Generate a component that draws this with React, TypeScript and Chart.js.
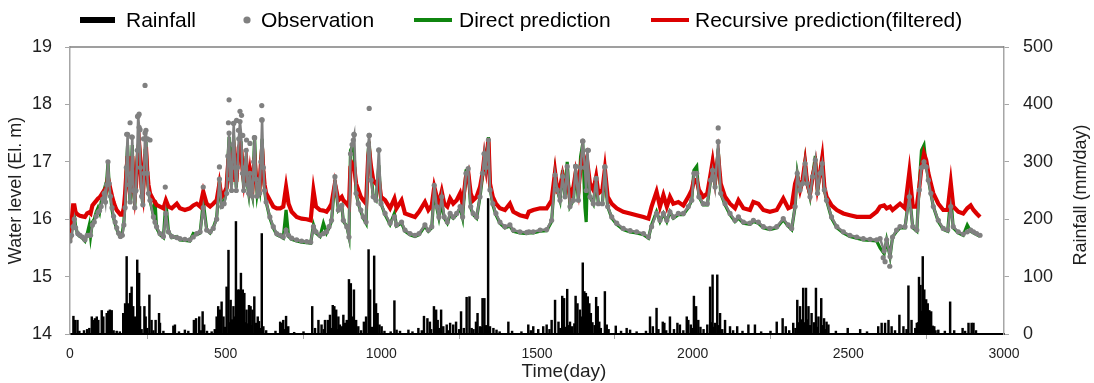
import { useEffect, useRef } from "react";
import { Chart, registerables } from "chart.js";

Chart.register(...registerables);

const FONT = "'Liberation Sans', Arial, Helvetica, sans-serif";
const OBS_GREY = "#808080";
const DIRECT_GREEN = "#0f850f";
const RECURSIVE_RED = "#dc0000";
const RAIN_BLACK = "#000000";
const AXIS_GREY = "#a6a6a6";
const TEXT = "#1f1f1f";

// Sample days for the water-level series (days since start)
const levelDays = [
  0, 5, 10, 14, 18, 25, 32, 40, 48, 55, 62, 66, 72, 78, 84, 90, 95, 100, 105, 110, 114, 118, 122, 126, 130, 135, 140, 145, 150, 156, 162, 168, 173,
  177, 181, 185, 189, 193, 197, 200, 204, 208, 212, 216, 219, 222, 226, 230, 234, 238, 241, 244, 248, 252, 257,
  268, 273, 278, 289, 300, 308, 316, 327, 343, 353, 369, 385, 396, 407, 418, 428, 439, 450, 460, 471, 480, 487, 495,
  503, 507, 511, 515, 519, 523, 526, 530, 534, 538, 542, 546, 550, 554, 558, 562, 566, 570, 574, 578, 582, 586, 590, 593, 597, 601, 605, 609, 613, 617, 621, 625, 630,
  642, 653, 664, 675, 685, 694, 702, 712, 728, 744, 760, 773, 782, 790, 803, 814, 824, 832, 840, 851, 862, 873, 878, 889, 896, 901, 906, 913, 919, 926, 934, 942, 951, 958, 961, 967, 974, 983, 992, 999,
  1012, 1028, 1042, 1049, 1065, 1076, 1092, 1108, 1121, 1140, 1151, 1162, 1170, 1178, 1185, 1194, 1202, 1212, 1221, 1231, 1242, 1253, 1261, 1272, 1279, 1287, 1295, 1306, 1317, 1325, 1331, 1336, 1344, 1349, 1358, 1368, 1381, 1397, 1413, 1424, 1445, 1467, 1474, 1488,
  1510, 1531, 1547, 1558, 1565, 1574, 1582, 1590, 1597, 1606, 1617, 1624, 1633, 1640, 1647, 1654, 1658, 1662, 1670, 1681, 1690, 1697, 1710, 1718, 1727, 1740, 1756, 1777, 1799, 1820, 1842, 1858, 1868, 1884, 1895, 1906, 1917, 1927, 1938, 1954, 1970, 1986, 1997,
  2004, 2013, 2020, 2034, 2047, 2058, 2064, 2072, 2082, 2090, 2104, 2120, 2136, 2147, 2163, 2184, 2195, 2211, 2227, 2248, 2270, 2291, 2307, 2318, 2329, 2336, 2345, 2353, 2361, 2368, 2377, 2385, 2394, 2401, 2409, 2416, 2423, 2430, 2446, 2463, 2484,
  2505, 2527, 2548, 2570, 2591, 2602, 2615, 2623, 2634, 2642, 2655, 2666, 2682, 2696, 2707, 2720, 2728, 2735, 2743, 2750, 2757, 2765, 2773, 2789, 2805, 2819, 2829, 2837, 2853, 2869, 2882, 2893, 2902, 2912, 2923,
];

// Observed water level (El. m)
const observed = [
  15.62, 15.72, 15.87, 16.0, 15.85, 15.75, 15.72, 15.69, 15.64, 15.72, 15.72, 15.72, 15.9, 15.95, 16.05, 16.12, 16.15, 16.22, 16.35, 16.45, 16.3, 16.6, 17.0, 16.62, 16.4, 16.2, 16.05, 15.95, 15.85, 15.76, 15.7, 15.72, 15.9,
  16.2, 16.9, 17.48, 16.6, 16.3, 16.8, 17.43, 16.5, 16.2, 16.5, 17.2, 17.8, 17.6, 16.9, 16.4, 16.25, 16.8, 17.5, 17.55, 16.8, 16.45, 16.33,
  16.04, 15.95, 15.87, 15.75, 15.7, 16.1, 15.78, 15.7, 15.68, 15.66, 15.65, 15.64, 15.69, 15.75, 15.78, 16.2, 15.81, 15.78, 15.84, 16.0, 16.7, 16.22, 16.27,
  16.45, 17.1, 17.5, 16.7, 16.5, 17.3, 17.67, 16.9, 16.5, 16.9, 17.4, 17.7, 17.46, 16.8, 16.5, 16.9, 17.2, 16.6, 16.45, 16.8, 16.5, 16.4, 17.0, 17.42, 16.7, 16.4, 16.6, 16.45, 17.0, 17.73, 16.9, 16.5, 16.3,
  16.04, 15.87, 15.75, 15.72, 15.69, 15.81, 15.72, 15.67, 15.64, 15.62, 15.61, 15.6, 15.87, 15.78, 15.72, 15.75, 15.78, 15.87, 15.98, 16.74, 16.16, 16.24, 15.98, 15.87, 15.69, 17.14, 17.3, 17.47, 16.45, 16.27, 16.16, 16.04, 15.95, 17.3, 17.46, 16.68, 16.39, 16.33, 17.2, 16.27,
  16.1, 15.93, 16.04, 15.9, 15.95, 15.81, 15.75, 15.72, 15.75, 15.9, 15.81, 15.87, 16.59, 16.22, 16.04, 16.39, 16.04, 15.95, 16.1, 16.04, 16.1, 16.22, 16.04, 16.8, 16.88, 16.22, 16.1, 16.04, 16.39, 16.8, 17.14, 16.9, 17.38, 16.51, 16.27, 16.1, 15.95, 15.87, 15.9, 15.81, 15.78, 15.77, 15.78, 15.78,
  15.81, 15.82, 15.98, 16.77, 16.51, 16.33, 16.74, 16.39, 16.92, 16.22, 16.33, 16.92, 16.33, 16.9, 17.36, 16.9, 16.5, 17.2, 16.39, 16.27, 16.71, 16.27, 16.27, 16.91, 16.22, 16.04, 15.93, 15.84, 15.8, 15.78, 15.75, 15.69, 15.87, 16.1, 15.98, 16.1, 15.98, 16.13, 16.04, 16.1, 16.1, 16.22, 16.33,
  16.8, 16.8, 16.39, 16.27, 16.27, 16.68, 16.85, 16.56, 17.35, 16.45, 16.27, 16.1, 15.98, 16.04, 15.95, 15.93, 15.98, 15.95, 15.87, 15.84, 15.87, 16.01, 15.9, 15.84, 16.22, 16.8, 16.51, 16.62, 16.97, 16.62, 16.39, 16.74, 17.03, 16.45, 16.8, 16.97, 16.51, 16.33, 16.04, 15.87, 15.78,
  15.72, 15.69, 15.66, 15.65, 15.64, 15.66, 15.45, 15.64, 15.35, 15.69, 15.81, 15.87, 15.87, 16.39, 15.87, 15.81, 16.51, 16.9, 17.0, 16.91, 16.68, 16.45, 16.22, 15.98, 15.84, 15.81, 16.22, 15.87, 15.78, 15.74, 15.78, 15.81, 15.78, 15.75, 15.72,
];

// Direct prediction (El. m)
const directPred = [
  15.6, 15.75, 16.22, 16.05, 15.88, 15.73, 15.7, 15.67, 15.62, 15.74, 15.9, 15.7, 15.95, 16.0, 16.12, 16.2, 16.12, 16.3, 16.42, 16.52, 16.35, 16.68, 16.98, 16.58, 16.42, 16.16, 16.02, 15.92, 15.83, 15.74, 15.7, 15.76, 15.95,
  16.3, 16.9, 17.29, 16.7, 16.3, 16.9, 17.29, 16.5, 16.22, 16.6, 17.05, 17.25, 17.4, 17.0, 16.45, 16.25, 16.8, 17.2, 17.35, 16.85, 16.5, 16.33,
  16.06, 16.33, 15.85, 15.73, 15.68, 16.3, 15.8, 15.68, 15.7, 15.64, 15.63, 15.62, 15.75, 15.73, 15.76, 16.3, 15.82, 15.76, 15.85, 16.02, 16.68, 16.24, 16.3,
  16.5, 17.0, 17.43, 16.8, 16.6, 17.3, 17.37, 17.0, 16.55, 16.9, 17.2, 17.28, 17.3, 16.85, 16.55, 16.9, 17.1, 16.6, 16.45, 16.75, 16.5, 16.4, 17.0, 17.43, 16.8, 16.45, 16.6, 16.5, 17.0, 17.4, 16.9, 16.5, 16.3,
  16.02, 15.85, 15.73, 15.7, 15.67, 16.16, 15.7, 15.65, 15.62, 15.6, 15.59, 15.58, 15.9, 15.76, 15.7, 15.93, 15.76, 15.85, 15.96, 16.68, 16.16, 16.24, 15.96, 15.88, 15.7, 17.2, 17.26, 17.1, 16.45, 16.27, 16.14, 16.02, 15.93, 17.2, 17.35, 16.8, 16.39, 16.33, 16.94, 16.27,
  16.08, 15.91, 16.1, 15.88, 15.93, 15.79, 15.73, 15.7, 15.73, 15.88, 15.79, 15.85, 16.53, 16.2, 16.02, 16.3, 16.02, 15.93, 16.08, 16.02, 16.08, 16.2, 16.02, 16.85, 16.87, 16.2, 16.08, 16.02, 16.39, 16.74, 17.0, 16.97, 17.43, 16.55, 16.25, 16.08, 15.93, 15.85, 15.88, 15.79, 15.76, 15.75, 15.76, 15.76,
  15.79, 15.8, 15.96, 16.8, 16.51, 16.33, 16.85, 16.39, 17.0, 16.22, 16.33, 16.85, 16.33, 17.09, 17.32, 16.2, 15.95, 16.8, 16.39, 16.27, 16.68, 16.27, 16.27, 16.85, 16.22, 16.02, 15.91, 15.82, 15.78, 15.76, 15.73, 15.67, 15.9, 16.13, 15.96, 16.1, 15.96, 16.13, 16.02, 16.08, 16.08, 16.2, 16.33,
  16.85, 16.92, 16.39, 16.25, 16.25, 16.7, 16.97, 16.56, 17.23, 16.45, 16.25, 16.08, 15.96, 16.02, 15.93, 15.91, 15.96, 15.93, 15.85, 15.82, 15.85, 15.99, 15.88, 15.82, 16.22, 16.8, 16.51, 16.62, 17.0, 16.62, 16.39, 16.74, 17.1, 16.45, 16.8, 17.06, 16.51, 16.33, 16.02, 15.85, 15.76,
  15.7, 15.67, 15.64, 15.63, 15.62, 15.5, 15.4, 15.64, 15.35, 15.69, 15.79, 15.85, 15.85, 16.45, 15.85, 15.79, 16.62, 17.2, 17.29, 16.94, 16.7, 16.45, 16.22, 15.96, 15.82, 15.79, 16.39, 15.85, 15.76, 15.72, 15.9, 15.79, 15.76, 15.73, 15.7,
];

// Recursive prediction after filtering (El. m)
const recursivePred = [
  15.64, 15.95, 16.24, 16.24, 16.12, 16.08, 16.06, 16.05, 16.04, 16.1, 16.12, 16.1, 16.24, 16.28, 16.32, 16.36, 16.38, 16.42, 16.46, 16.5, 16.45, 16.56, 16.72, 16.62, 16.52, 16.4, 16.3, 16.22, 16.16, 16.12, 16.08, 16.08, 16.2,
  16.45, 16.8, 17.1, 16.75, 16.45, 16.85, 17.1, 16.6, 16.4, 16.6, 16.95, 17.2, 17.32, 17.0, 16.55, 16.42, 16.8, 17.1, 17.26, 16.85, 16.6, 16.45,
  16.33, 16.3, 16.25, 16.22, 16.19, 16.33, 16.22, 16.19, 16.27, 16.19, 16.16, 16.19, 16.24, 16.27, 16.22, 16.48, 16.27, 16.22, 16.27, 16.33, 16.62, 16.39, 16.45,
  16.55, 16.9, 17.15, 16.8, 16.65, 17.1, 17.2, 16.9, 16.65, 16.95, 17.25, 17.3, 17.2, 16.9, 16.7, 16.9, 17.0, 16.7, 16.6, 16.8, 16.62, 16.55, 16.9, 17.03, 16.75, 16.6, 16.65, 16.58, 16.95, 17.23, 16.85, 16.6, 16.45,
  16.33, 16.22, 16.19, 16.19, 16.22, 16.56, 16.27, 16.13, 16.04, 16.01, 16.0, 15.98, 16.5, 16.22, 16.16, 16.15, 16.13, 16.19, 16.27, 16.62, 16.33, 16.39, 16.33, 16.27, 16.22, 16.91, 16.97, 16.9, 16.62, 16.51, 16.39, 16.33, 16.27, 17.1, 17.2, 16.91, 16.68, 16.62, 16.68, 16.39,
  16.33, 16.19, 16.36, 16.19, 16.33, 16.1, 16.07, 16.04, 16.13, 16.3, 16.16, 16.24, 16.56, 16.39, 16.27, 16.48, 16.27, 16.22, 16.36, 16.27, 16.33, 16.45, 16.27, 16.74, 16.82, 16.45, 16.33, 16.39, 16.56, 16.8, 17.09, 16.91, 17.4, 16.62, 16.39, 16.27, 16.19, 16.16, 16.27, 16.13, 16.07, 16.04, 16.13, 16.16,
  16.19, 16.19, 16.33, 16.82, 16.51, 16.56, 16.77, 16.56, 16.68, 16.39, 16.56, 16.8, 16.51, 16.91, 17.15, 17.03, 16.8, 16.97, 16.62, 16.51, 16.74, 16.45, 16.51, 16.87, 16.39, 16.27, 16.19, 16.13, 16.1, 16.07, 16.04, 16.01, 16.22, 16.48, 16.22, 16.42, 16.22, 16.39, 16.27, 16.3, 16.24, 16.39, 16.51,
  16.68, 16.68, 16.51, 16.39, 16.45, 16.8, 17.0, 16.68, 17.09, 16.62, 16.39, 16.27, 16.19, 16.33, 16.19, 16.16, 16.3, 16.27, 16.16, 16.13, 16.16, 16.36, 16.19, 16.22, 16.62, 16.74, 16.51, 16.68, 16.98, 16.62, 16.45, 16.74, 16.96, 16.56, 16.8, 17.06, 16.56, 16.39, 16.24, 16.16, 16.1,
  16.07, 16.04, 16.04, 16.04, 16.13, 16.22, 16.24, 16.19, 16.22, 16.16, 16.22, 16.27, 16.19, 16.82, 16.22, 16.22, 16.56, 16.91, 17.14, 17.03, 16.8, 16.62, 16.45, 16.27, 16.16, 16.16, 16.63, 16.22, 16.13, 16.1, 16.19, 16.24, 16.16, 16.1, 16.04,
];

// Isolated observations away from the main band (peaks and lows)
const obsPeakDays = [
  182, 193, 198, 217, 222, 225, 236, 241, 249, 257,
  306, 428, 480,
  509, 511, 525, 535, 541, 546, 551, 555, 567, 578, 592, 616, 616,
  910, 912, 961, 961, 992,
  1330, 1624, 1647, 1665, 1718,
  2082, 2612, 2618, 2633,
];
const obsPeakLevels = [
  17.48, 17.68, 17.43, 17.79, 17.83, 17.56, 17.4, 18.33, 17.4, 17.38,
  16.56, 16.56, 16.91,
  17.68, 18.08, 17.67, 17.72, 17.55, 17.88, 17.81, 17.46, 17.38, 17.32, 17.42, 17.98, 17.73,
  17.38, 17.48, 17.93, 17.46, 17.21,
  17.14, 16.92, 17.36, 17.2, 16.91,
  17.59, 15.33, 15.26, 15.18,
];

// Daily rainfall events (mm/day)
const rainDays = [
  11, 16, 24, 62, 70, 75, 80, 86, 91, 102,
  107, 118, 123, 128, 134, 171, 177, 182, 187, 193,
  198, 203, 209, 216, 222, 225, 239, 243, 255, 262,
  275, 286, 289, 332, 337, 369, 398, 405, 415, 426,
  431, 471, 476, 482, 487, 493, 503, 509, 516, 525,
  533, 539, 544, 549, 555, 560, 567, 575, 580, 586,
  592, 597, 603, 607, 616, 621, 675, 680, 685, 694,
  701, 778, 787, 798, 808, 819, 828, 835, 844, 849,
  855, 862, 867, 873, 878, 883, 889, 896, 902, 912,
  919, 926, 944, 951, 959, 964, 977, 983, 988, 994,
  1001, 1042, 1049, 1087, 1119, 1137, 1148, 1156, 1169, 1176,
  1181, 1192, 1199, 1210, 1221, 1231, 1240, 1256, 1274, 1283,
  1290, 1304, 1309, 1317, 1325, 1331, 1343, 1349, 1360, 1370,
  1408, 1472, 1488, 1504, 1520, 1531, 1547, 1558, 1569, 1581,
  1587, 1597, 1606, 1613, 1624, 1630, 1638, 1647, 1652, 1657,
  1663, 1668, 1673, 1690, 1695, 1700, 1718, 1724, 1753, 1788,
  1799, 1863, 1872, 1884, 1904, 1909, 1927, 1951, 1959, 1981,
  1986, 1994, 2004, 2011, 2018, 2047, 2056, 2064, 2072, 2079,
  2088, 2104, 2120, 2143, 2179, 2200, 2270, 2289, 2299, 2323,
  2336, 2345, 2355, 2364, 2372, 2382, 2396, 2404, 2413, 2422,
  2430, 2436, 2498, 2538, 2596, 2607, 2618, 2629, 2639, 2664,
  2677, 2693, 2703, 2720, 2727, 2732, 2739, 2744, 2750, 2755,
  2760, 2766, 2771, 2776, 2789, 2827, 2867, 2886, 2896, 2902,
];
const rainMm = [
  31, 24, 24, 10, 30, 24, 27, 30, 24, 41,
  30, 36, 40, 42, 41, 36, 53, 135, 53, 71,
  82, 48, 30, 129, 106, 48, 48, 30, 68, 24,
  24, 36, 19, 14, 16, 7, 24, 27, 30, 39,
  16, 30, 48, 42, 56, 30, 82, 146, 59, 48,
  196, 77, 77, 106, 77, 71, 42, 50, 48, 42,
  65, 19, 30, 22, 175, 13, 21, 19, 24, 31,
  13, 48, 10, 24, 16, 24, 24, 33, 50, 48,
  42, 30, 16, 13, 33, 19, 24, 95, 88, 77,
  24, 13, 21, 30, 147, 77, 136, 53, 36, 16,
  13, 58, 7, 7, 10, 31, 27, 21, 48, 42,
  24, 42, 13, 16, 19, 16, 21, 39, 64, 65,
  10, 21, 36, 13, 62, 62, 236, 13, 10, 7,
  21, 16, 13, 8, 13, 16, 24, 59, 21, 66,
  62, 78, 21, 13, 66, 53, 42, 124, 74, 71,
  65, 53, 36, 64, 48, 21, 74, 16, 14, 10,
  7, 30, 13, 45, 21, 19, 30, 19, 16, 30,
  24, 16, 66, 48, 24, 16, 82, 103, 19, 103,
  36, 24, 13, 13, 16, 16, 21, 27, 13, 19,
  59, 48, 80, 80, 48, 36, 80, 30, 62, 27,
  21, 16, 10, 8, 13, 19, 19, 24, 13, 33,
  13, 84, 24, 19, 99, 85, 135, 77, 60, 53,
  41, 39, 14, 13, 7, 56, 10, 19, 19, 19,
];

// Light rain days (mm/day)
const drizzleDays = [
  30, 45, 55, 140, 150, 160, 230, 248, 268, 300,
  350, 380, 420, 440, 455, 465, 498, 512, 520, 528,
  536, 541, 552, 563, 570, 584, 600, 610, 630, 660,
  690, 720, 750, 815, 840, 860, 890, 906, 915, 935,
  970, 1010, 1030, 1060, 1100, 1130, 1160, 1186, 1215, 1250,
  1265, 1296, 1320, 1337, 1380, 1420, 1450, 1480, 1540, 1575,
  1592, 1602, 1620, 1643, 1660, 1678, 1685, 1705, 1730, 1770,
  1820, 1850, 1890, 1915, 1940, 1970, 1999, 2025, 2035, 2060,
  2068, 2084, 2095, 2130, 2160, 2220, 2250, 2310, 2330, 2340,
  2350, 2359, 2368, 2377, 2390, 2400, 2418, 2426, 2460, 2560,
  2650, 2687, 2715, 2724, 2736, 2747, 2753, 2763, 2780, 2810,
  2840, 2875, 2910,
];
const drizzleMm = [
  5, 6, 8, 6, 5, 4, 8, 10, 6, 5,
  4, 5, 6, 5, 4, 8, 12, 20, 25, 30,
  25, 35, 28, 20, 18, 15, 12, 10, 6, 5,
  8, 3, 4, 8, 10, 8, 10, 30, 20, 6,
  12, 5, 4, 5, 4, 6, 8, 10, 6, 8,
  10, 8, 12, 15, 4, 5, 4, 6, 8, 10,
  12, 15, 18, 30, 40, 20, 15, 10, 8, 5,
  4, 5, 8, 6, 8, 6, 10, 12, 8, 20,
  12, 15, 8, 6, 5, 4, 5, 6, 10, 20,
  25, 20, 25, 15, 20, 12, 15, 8, 5, 4,
  6, 8, 10, 20, 40, 45, 30, 20, 6, 5,
  6, 5, 6,
];

const toPoints = (xs: number[], ys: number[]) =>
  xs.slice(0, Math.min(xs.length, ys.length)).map((x, i) => ({ x, y: ys[i] }));

// Frame line, legend row, and axis titles drawn on the canvas
const overlayPlugin = {
  id: "legendAndTitles",
  afterDraw(chart: any) {
    const { ctx, chartArea: a } = chart;
    ctx.save();

    ctx.strokeStyle = "#7f7f7f";
    ctx.lineWidth = 1.5;
    ctx.beginPath();
    ctx.moveTo(a.left, a.top);
    ctx.lineTo(a.right, a.top);
    ctx.stroke();

    const midY = 20;
    const baseY = 27;
    ctx.fillStyle = RAIN_BLACK;
    ctx.fillRect(80, midY - 3, 35, 6);

    ctx.fillStyle = OBS_GREY;
    ctx.beginPath();
    ctx.arc(247, midY, 3.6, 0, Math.PI * 2);
    ctx.fill();

    ctx.lineWidth = 4;
    ctx.strokeStyle = DIRECT_GREEN;
    ctx.beginPath();
    ctx.moveTo(414, midY);
    ctx.lineTo(452, midY);
    ctx.stroke();

    ctx.strokeStyle = RECURSIVE_RED;
    ctx.beginPath();
    ctx.moveTo(651, midY);
    ctx.lineTo(689, midY);
    ctx.stroke();

    ctx.fillStyle = "#000000";
    ctx.font = `21px ${FONT}`;
    ctx.textAlign = "left";
    ctx.textBaseline = "alphabetic";
    ctx.fillText("Rainfall", 126, baseY);
    ctx.fillText("Observation", 261, baseY);
    ctx.fillText("Direct prediction", 459, baseY);
    ctx.fillText("Recursive prediction(filtered)", 695, baseY);

    ctx.fillStyle = TEXT;
    ctx.font = `19px ${FONT}`;
    ctx.textAlign = "center";
    ctx.fillText("Time(day)", 564, 377);

    ctx.save();
    ctx.translate(1086, 195);
    ctx.rotate(-Math.PI / 2);
    ctx.font = `18px ${FONT}`;
    ctx.textAlign = "center";
    ctx.textBaseline = "alphabetic";
    ctx.fillText("Rainfall (mm/day)", 0, 0);
    ctx.restore();

    ctx.restore();
  },
};

export default function App() {
  const canvasRef = useRef<HTMLCanvasElement>(null);

  useEffect(() => {
    document.body.style.margin = "0";
    const canvas = canvasRef.current;
    if (!canvas) return;

    const dotStyle = {
      pointRadius: 2.6,
      pointBackgroundColor: OBS_GREY,
      pointBorderWidth: 0,
      pointHoverRadius: 0,
    };

    const chart = new Chart(canvas, {
      type: "line",
      data: {
        datasets: [
          {
            label: "Observation",
            data: toPoints(obsPeakDays, obsPeakLevels),
            showLine: false,
            yAxisID: "y",
            order: 0,
            ...dotStyle,
          },
          {
            label: "Observation",
            data: toPoints(levelDays, observed),
            borderColor: OBS_GREY,
            borderWidth: 2.5,
            tension: 0,
            yAxisID: "y",
            order: 1,
            ...dotStyle,
          },
          {
            label: "Recursive prediction(filtered)",
            data: toPoints(levelDays, recursivePred),
            borderColor: RECURSIVE_RED,
            borderWidth: 4.2,
            pointRadius: 0,
            tension: 0,
            yAxisID: "y",
            order: 2,
          },
          {
            label: "Direct prediction",
            data: toPoints(levelDays, directPred),
            borderColor: DIRECT_GREEN,
            borderWidth: 3.2,
            pointRadius: 0,
            tension: 0,
            yAxisID: "y",
            order: 3,
          },
          {
            type: "bar",
            label: "Rainfall",
            data: toPoints(rainDays.concat(drizzleDays), rainMm.concat(drizzleMm)),
            backgroundColor: RAIN_BLACK,
            borderWidth: 0,
            barThickness: 1.8,
            yAxisID: "y2",
            order: 4,
          } as any,
        ],
      },
      options: {
        responsive: false,
        animation: false,
        devicePixelRatio: 1,
        layout: { padding: { top: 47, left: 0, right: 0, bottom: 0 } },
        plugins: {
          legend: { display: false },
          tooltip: { enabled: false },
          title: { display: false },
        },
        scales: {
          x: {
            type: "linear",
            min: 0,
            max: 3000,
            offset: false,
            ticks: {
              stepSize: 500,
              maxRotation: 0,
              autoSkip: false,
              padding: 7,
              color: TEXT,
              font: { family: FONT, size: 14 },
              callback: (v: any) => String(v),
            },
            grid: { drawOnChartArea: false, drawTicks: true, tickLength: 5, color: AXIS_GREY },
            border: { color: "#000000", width: 2 },
            afterFit: (s: any) => {
              s.height = 49;
            },
          },
          y: {
            position: "left",
            min: 14,
            max: 19,
            ticks: {
              stepSize: 1,
              padding: 13,
              color: TEXT,
              font: { family: FONT, size: 18 },
              callback: (v: any) => String(v),
            },
            grid: { drawOnChartArea: false, drawTicks: true, tickLength: 5, color: AXIS_GREY },
            border: { color: AXIS_GREY, width: 1.5 },
            title: {
              display: true,
              text: "Water level (El. m)",
              color: TEXT,
              font: { family: FONT, size: 18 },
              padding: { top: 5, bottom: 0 },
            },
            afterFit: (s: any) => {
              s.width = 70;
            },
          },
          y2: {
            position: "right",
            min: 0,
            max: 500,
            ticks: {
              stepSize: 100,
              padding: 14,
              color: TEXT,
              font: { family: FONT, size: 18 },
              callback: (v: any) => String(v),
            },
            grid: { drawOnChartArea: false, drawTicks: true, tickLength: 5, color: AXIS_GREY },
            border: { color: AXIS_GREY, width: 1.5 },
            afterFit: (s: any) => {
              s.width = 90;
            },
          },
        },
      },
      plugins: [overlayPlugin],
    });

    return () => chart.destroy();
  }, []);

  return (
    <div style={{ width: 1094, height: 383 }}>
      <canvas ref={canvasRef} width={1094} height={383} style={{ display: "block" }} />
    </div>
  );
}
